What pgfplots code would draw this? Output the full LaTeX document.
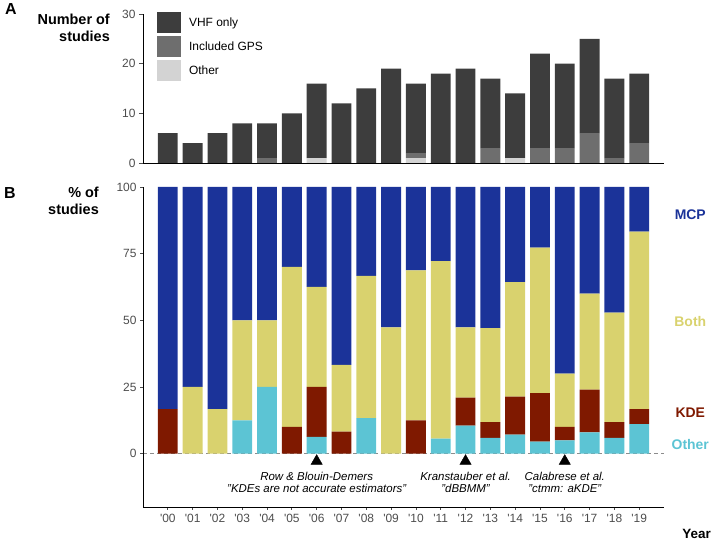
\documentclass[border=0pt]{standalone}
\usepackage{fontspec}
\setmainfont{Liberation Sans}
\usepackage{pgfplots}
\pgfplotsset{compat=1.18}
\usepackage{pgfplotstable}

\definecolor{vhf}{HTML}{3D3D3D}
\definecolor{gps}{HTML}{6E6E6E}
\definecolor{oth}{HTML}{D3D3D3}
\definecolor{mcp}{HTML}{1B3399}
\definecolor{both}{HTML}{D9D26E}
\definecolor{kde}{HTML}{7F1900}
\definecolor{other}{HTML}{5CC4D4}
\definecolor{ticklab}{HTML}{4D4D4D}

\newcommand{\yr}[1]{\textquotesingle#1}

\pgfplotstableread{
x vhf gps oth
0 6 0 0
1 4 0 0
2 6 0 0
3 8 0 0
4 7 1 0
5 10 0 0
6 15 0 1
7 12 0 0
8 15 0 0
9 19 0 0
10 14 1 1
11 18 0 0
12 19 0 0
13 14 3 0
14 13 0 1
15 19 3 0
16 17 3 0
17 19 6 0
18 16 1 0
19 14 4 0
}\counts

\pgfplotstableread{
x other kde both mcp
0 0 16.7 0 83.3
1 0 0 25 75
2 0 0 16.7 83.3
3 12.5 0 37.5 50
4 25 0 25 50
5 0 10 60 30
6 6.25 18.75 37.5 37.5
7 0 8.3 25 66.7
8 13.3 0 53.4 33.3
9 0 0 47.4 52.6
10 0 12.5 56.25 31.25
11 5.6 0 66.6 27.8
12 10.5 10.5 26.4 52.6
13 5.9 5.9 35.3 52.9
14 7.1 14.3 42.9 35.7
15 4.5 18.2 54.6 22.7
16 5 5 20 70
17 8 16 36 40
18 5.9 5.9 41.1 47.1
19 11.1 5.6 66.6 16.7
}\pct

\pgfplotsset{
  common/.style={
    scale only axis,
    width=521bp,
    xmin=-1, xmax=20,
    enlargelimits=false,
    axis x line*=bottom,
    axis y line*=left,
    axis line style={line width=0.8bp, black},
    tick align=outside,
    major tick length=4bp,
    ytick style={line width=0.8bp, black!70},
    xtick style={line width=0.8bp, black!70},
    tick label style={font=\fontsize{12}{14}\selectfont, text=ticklab},
    /pgf/number format/assume math mode=true,
    ybar stacked,
    bar width=0.8,
    clip=false,
  }
}

\begin{document}
\begin{tikzpicture}
\path[use as bounding box] (0,0) rectangle (712bp,543bp);

% Panel A
\begin{axis}[common,
  at={(143bp,380bp)}, anchor=south west,
  height=149bp,
  ymin=0, ymax=30,
  ytick={0,10,20,30},
  xtick=\empty,
  reverse legend,
  legend style={draw=none, fill=none, inner sep=0pt, outer sep=0pt,
    at={(0.027,1.013)}, anchor=north west,
    row sep=3bp, column sep=8bp,
    font=\fontsize{12}{14}\selectfont,
    nodes={inner xsep=0pt, inner ysep=0pt}},
  legend cell align=left,
  legend image code/.code={\fill[#1] (0bp,-10.5bp) rectangle (24bp,10.5bp);},
]
\addplot[fill=oth, draw=none] table[x=x, y=oth] {\counts};
\addlegendentry{Other}
\addplot[fill=gps, draw=none] table[x=x, y=gps] {\counts};
\addlegendentry{Included GPS}
\addplot[fill=vhf, draw=none] table[x=x, y=vhf] {\counts};
\addlegendentry{VHF only}
\end{axis}

% Panel B overlay (dashed zero line, markers, annotations)
\begin{axis}[
  at={(143bp,36bp)}, anchor=south west,
  scale only axis, width=521bp, height=320bp,
  xmin=-1, xmax=20, ymin=-20, ymax=100,
  hide axis, clip=false,
]
\addplot[draw=black!45, line width=0.9bp, dash pattern=on 4bp off 3bp] coordinates {(-1,0) (20,0)};
\addplot[only marks, mark=triangle*, mark size=6.5bp, black] coordinates {(6,-2.8) (12,-2.8) (16,-2.8)};
\node[font=\fontsize{11.5}{11.5}\selectfont\itshape, align=center] at (axis cs:6,-10.7) {Row \& Blouin-Demers\\"KDEs are not accurate estimators"};
\node[font=\fontsize{11.5}{11.5}\selectfont\itshape, align=center] at (axis cs:12,-10.7) {Kranstauber et al.\\"dBBMM"};
\node[font=\fontsize{11.5}{11.5}\selectfont\itshape, align=center] at (axis cs:16,-10.7) {Calabrese et al.\\"ctmm: aKDE"};
\node[font=\fontsize{14}{16}\selectfont\bfseries, text=mcp] at (axis cs:21.06,89.5) {MCP};
\node[font=\fontsize{14}{16}\selectfont\bfseries, text=both] at (axis cs:21.06,49.5) {Both};
\node[font=\fontsize{14}{16}\selectfont\bfseries, text=kde] at (axis cs:21.06,15.5) {KDE};
\node[font=\fontsize{14}{16}\selectfont\bfseries, text=other] at (axis cs:21.06,3.5) {Other};
\end{axis}

% Panel B bars
\begin{axis}[common,
  at={(143bp,36bp)}, anchor=south west,
  height=320bp,
  ymin=-20, ymax=100,
  ytick={0,25,50,75,100},
  xtick={0,...,19},
  major tick length=3bp,
  xticklabels={\yr{00},\yr{01},\yr{02},\yr{03},\yr{04},\yr{05},\yr{06},\yr{07},\yr{08},\yr{09},\yr{10},\yr{11},\yr{12},\yr{13},\yr{14},\yr{15},\yr{16},\yr{17},\yr{18},\yr{19}},
  xticklabel style={yshift=-1bp},
]
\addplot[fill=other, draw=none] table[x=x, y=other] {\pct};
\addplot[fill=kde, draw=none] table[x=x, y=kde] {\pct};
\addplot[fill=both, draw=none] table[x=x, y=both] {\pct};
\addplot[fill=mcp, draw=none] table[x=x, y=mcp] {\pct};
\end{axis}

% Labels
\node[font=\fontsize{16}{18}\selectfont\bfseries] at (11bp,534bp) {A};
\node[font=\fontsize{16}{18}\selectfont\bfseries] at (10bp,350bp) {B};
\node[font=\fontsize{14.5}{17}\selectfont\bfseries, align=right, anchor=north east, inner sep=0pt] at (110bp,529bp) {Number of\\studies};
\node[font=\fontsize{14.5}{17}\selectfont\bfseries, align=right, anchor=north east, inner sep=0pt] at (99bp,356bp) {\% of\\studies};
\node[font=\fontsize{13.5}{16}\selectfont\bfseries, anchor=east, inner sep=0pt] at (711bp,9bp) {Year};
\end{tikzpicture}
\end{document}
